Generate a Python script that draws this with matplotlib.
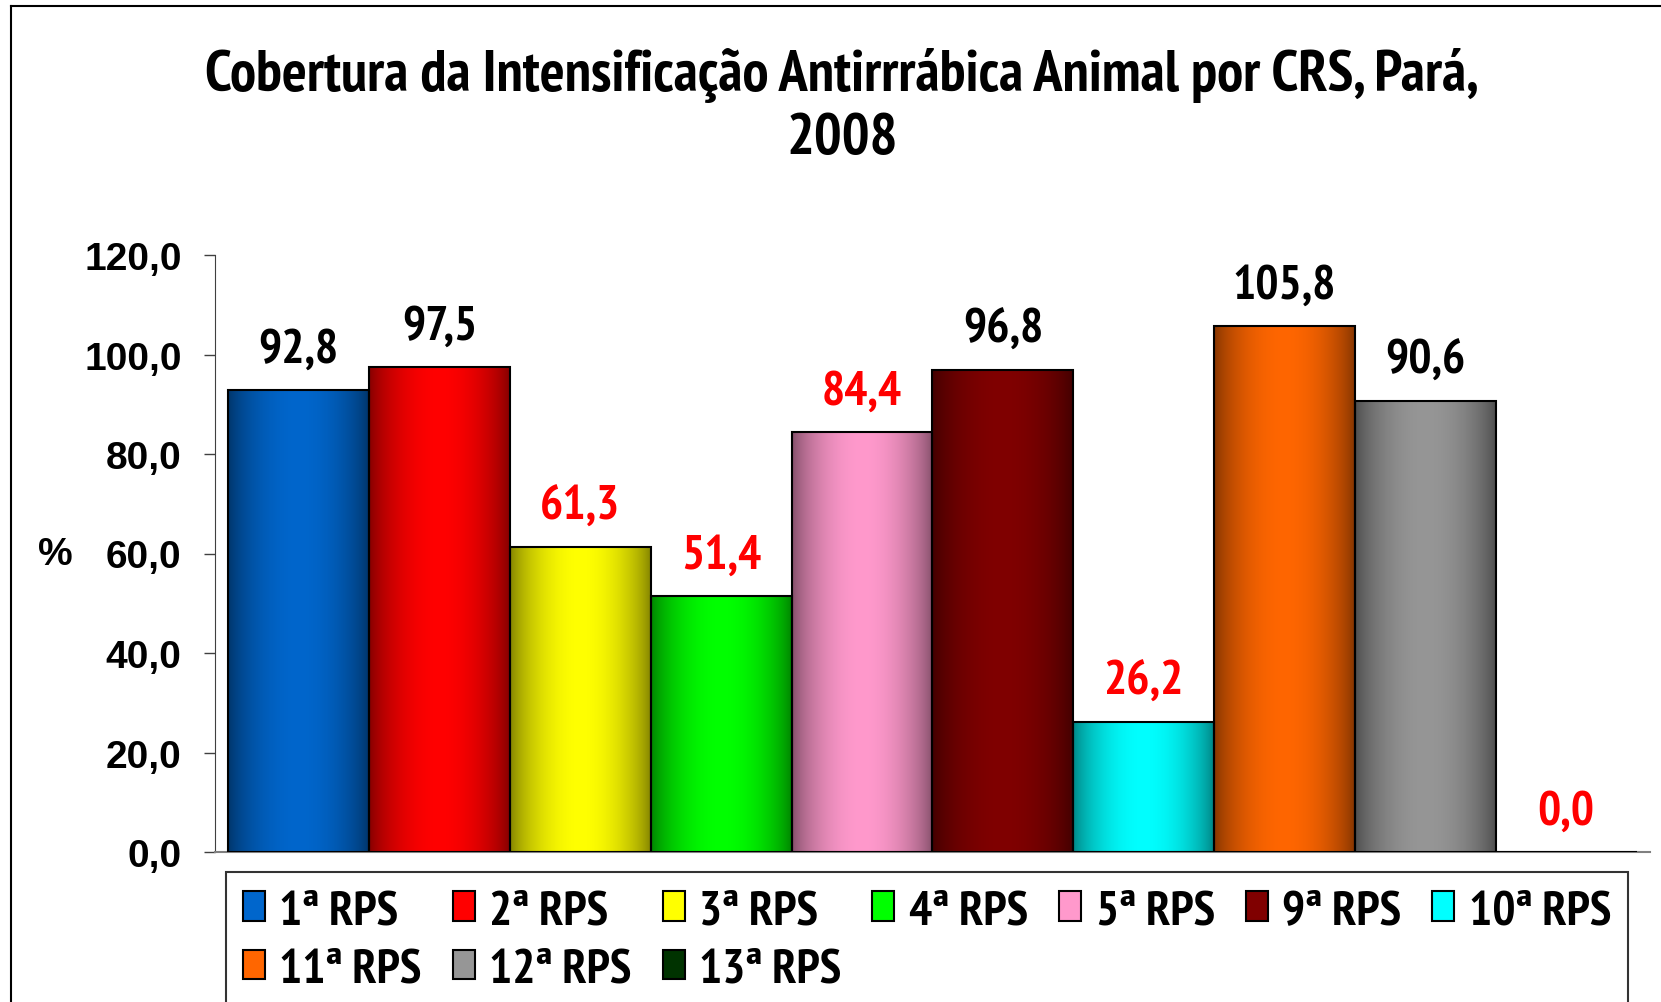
import numpy as np
import matplotlib
matplotlib.use("Agg")
import matplotlib.pyplot as plt
from matplotlib import font_manager
from matplotlib.patches import Rectangle
from matplotlib.lines import Line2D

# ---- data ----
categories = ["1ª RPS", "2ª RPS", "3ª RPS", "4ª RPS", "5ª RPS",
              "9ª RPS", "10ª RPS", "11ª RPS", "12ª RPS", "13ª RPS"]
values = [92.8, 97.5, 61.3, 51.4, 84.4, 96.8, 26.2, 105.8, 90.6, 0.0]
value_labels = ["92,8", "97,5", "61,3", "51,4", "84,4", "96,8", "26,2", "105,8", "90,6", "0,0"]
ytick_values = [0, 20, 40, 60, 80, 100, 120]
ytick_labels = ["0,0", "20,0", "40,0", "60,0", "80,0", "100,0", "120,0"]
title = "Cobertura da Intensificação Antirrrábica Animal por CRS, Pará,\n2008"
target = 90.0

colors = ["#0066CC", "#FF0000", "#FFFF00", "#00FF00", "#FF99CC",
          "#800000", "#00FFFF", "#FF6600", "#969696", "#003300"]

names = {f.name for f in font_manager.fontManager.ttflist}
NARROW = "PT Sans Narrow" if "PT Sans Narrow" in names else "DejaVu Sans"
WIDE = "Liberation Sans" if "Liberation Sans" in names else "DejaVu Sans"
narrow_kw = dict(family=NARROW, weight="bold")

W, H = 1661, 1003
fig = plt.figure(figsize=(W / 100, H / 100), dpi=100)
ax = fig.add_axes([215 / W, 1 - 853 / H, (1650 - 215) / W, (853 - 256) / H])

x = np.arange(len(values))
bars = ax.bar(x, values, width=1.0, facecolor="none", edgecolor="black",
              linewidth=1.5, zorder=3)

t = np.linspace(0, 1, 256)
f = 0.5 + 0.5 * np.sin(np.pi * t) ** 0.7
for b, c in zip(bars, colors):
    rgb = np.array(matplotlib.colors.to_rgb(c))
    img = (f[:, None] * rgb[None, :])[None, :, :]
    x0, w = b.get_x(), b.get_width()
    h = b.get_height()
    if h <= 0:
        continue
    im = ax.imshow(img, extent=[x0, x0 + w, 0, h], aspect="auto",
                   interpolation="bilinear", zorder=2)
    im.set_clip_path(b)

for xi, v, lab in zip(x, values, value_labels):
    ax.annotate(lab, (xi, v), xytext=(0, 29), textcoords="offset points",
                ha="center", va="center", fontsize=35,
                color=("#FF0000" if v < target else "black"), **narrow_kw)

pad = 0.095
ax.set_xlim(-0.5 - pad, len(values) - 0.5 + pad)
ax.set_ylim(0, 120)
ax.set_yticks(ytick_values)
ax.set_yticklabels(ytick_labels, fontsize=28, fontweight="bold", family=WIDE)
ax.set_xticks([])
ax.tick_params(axis="y", length=8, width=1, pad=16, color="#404040")
for s in ["top", "right"]:
    ax.spines[s].set_visible(False)
ax.spines["left"].set_color("#404040")
ax.spines["bottom"].set_color("#808080")
ax.spines["bottom"].set_linewidth(1.5)

fig.text(55 / W, 1 - 555 / H, "%", fontsize=28, fontweight="bold", family=WIDE,
         ha="center", va="center")

fig.text(842 / W, 1 - 107 / H, title, fontsize=42, ha="center", va="center",
         linespacing=1.25, **narrow_kw)

# outer chart border
fig.add_artist(Line2D([11 / W, 11 / W], [-0.1, 1 - 7 / H], color="black", lw=1.5))
fig.add_artist(Line2D([11 / W, 1.1], [1 - 7 / H, 1 - 7 / H], color="black", lw=1.5))

# legend (ordered so that the grid reads row by row)
handles = [Rectangle((0, 0), 1, 1, facecolor=c, edgecolor="black", linewidth=1.5)
           for c in colors]
order = [0, 7, 1, 8, 2, 9, 3, 4, 5, 6]
leg = fig.legend([handles[i] for i in order], [categories[i] for i in order],
                 ncol=7, loc="upper left",
                 bbox_to_anchor=(226 / W, 1 - 873 / H - 0.01, (1628 - 226) / W, 0.01),
                 mode="expand", frameon=True, fancybox=False,
                 prop=dict(size=35, **narrow_kw),
                 handlelength=0.45, handleheight=0.56, handletextpad=0.3,
                 columnspacing=0.4, labelspacing=0.3, borderpad=0.35,
                 borderaxespad=0)
leg.get_frame().set_edgecolor("black")
leg.get_frame().set_linewidth(1.5)

fig.savefig("out.png", dpi=100)
